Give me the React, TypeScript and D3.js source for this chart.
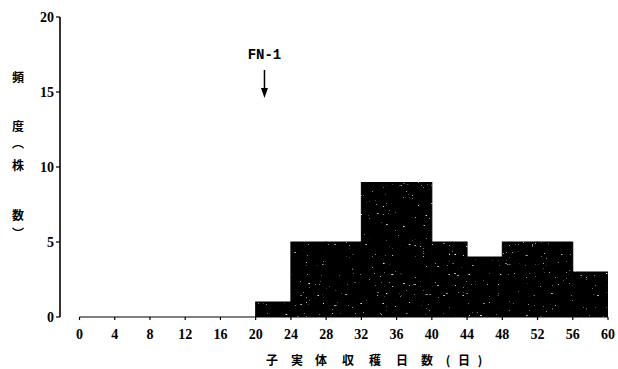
import React from "react";
import * as d3 from "d3";

// Harvest-day histogram: bin start (day), bin end (day), number of plants
const binStarts = [0, 4, 8, 12, 16, 20, 24, 28, 32, 36, 40, 44, 48, 52, 56];
const binEnds = [4, 8, 12, 16, 20, 24, 28, 32, 36, 40, 44, 48, 52, 56, 60];
const counts = [0, 0, 0, 0, 0, 1, 5, 5, 9, 9, 5, 4, 5, 5, 3];

const xTicks = [0, 4, 8, 12, 16, 20, 24, 28, 32, 36, 40, 44, 48, 52, 56, 60];
const yTicks = [0, 5, 10, 15, 20];
const yLabelChars = ["頻", "度", "︵", "株", "数", "︶"];
const yLabelPos = [78, 127, 144, 166, 216, 234];
const xLabelChars = ["子", "実", "体", "収", "穫", "日", "数", "(", "日", ")"];
const xLabelPos = [272, 297, 321, 348, 375, 402, 427, 448, 464, 480];
const markerDay = 21;
const markerText = "FN-1";

const W = 618;
const H = 369;

export default function App() {
  const x = d3.scaleLinear().domain([0, 60]).range([79.5, 608]);
  const y = d3.scaleLinear().domain([0, 20]).range([317, 17]);
  const axisX = 60;
  const font = "'Liberation Serif', 'DejaVu Serif', serif";
  const cjk = "'Noto Sans CJK JP', sans-serif";

  const bars = binStarts
    .map((s, i) => ({ s, e: binEnds[i], c: counts[i] }))
    .filter((b) => b.c > 0);

  return (
    <svg
      width={W}
      height={H}
      style={{ position: "absolute", left: 0, top: 0, background: "#fff" }}
    >
      <defs>
        <filter id="speckle" x="0" y="0" width="100%" height="100%">
          <feTurbulence type="fractalNoise" baseFrequency="0.35 1.1" numOctaves={1} seed={5} result="n" />
          <feColorMatrix
            in="n"
            type="matrix"
            values="0 0 0 0 1  0 0 0 0 1  0 0 0 0 1  10 0 0 0 -7.2"
            result="dots"
          />
          <feComposite in="dots" in2="SourceGraphic" operator="in" result="d2" />
          <feMerge>
            <feMergeNode in="SourceGraphic" />
            <feMergeNode in="d2" />
          </feMerge>
        </filter>
      </defs>

      {/* histogram bars */}
      <g filter="url(#speckle)">
        {bars.map((b, i) => (
          <rect
            key={i}
            x={x(b.s)}
            y={y(b.c)}
            width={x(b.e) - x(b.s)}
            height={y(0) - y(b.c)}
            fill="#050505"
            stroke="#000"
            strokeWidth={1}
          />
        ))}
      </g>

      {/* y axis */}
      <line x1={axisX} x2={axisX} y1={y(20)} y2={y(0)} stroke="#000" strokeWidth={1.6} />
      {yTicks.map((t) => (
        <g key={t}>
          <line x1={axisX - 4} x2={axisX} y1={y(t)} y2={y(t)} stroke="#000" strokeWidth={1.2} />
          <text
            x={axisX - 6}
            y={y(t)}
            dy="0.35em"
            textAnchor="end"
            fontFamily={font}
            fontWeight="bold"
            fontSize={14}
          >
            {t}
          </text>
        </g>
      ))}

      {/* x axis */}
      <line x1={x(0)} x2={x(60)} y1={y(0)} y2={y(0)} stroke="#000" strokeWidth={1.2} />
      {xTicks.map((t) => (
        <g key={t}>
          <line x1={x(t)} x2={x(t)} y1={y(0)} y2={y(0) + 3} stroke="#000" strokeWidth={1.2} />
          <text
            x={x(t)}
            y={339}
            textAnchor="middle"
            fontFamily={font}
            fontWeight="bold"
            fontSize={14}
          >
            {t}
          </text>
        </g>
      ))}

      {/* axis titles */}
      {yLabelChars.map((ch, i) => (
        <text
          key={i}
          x={18}
          y={yLabelPos[i]}
          dy="0.35em"
          textAnchor="middle"
          fontFamily={cjk}
          fontWeight="bold"
          fontSize={12}
        >
          {ch}
        </text>
      ))}
      {xLabelChars.map((ch, i) => (
        <text
          key={i}
          x={xLabelPos[i]}
          y={360}
          dy="0.38em"
          textAnchor="middle"
          fontFamily={cjk}
          fontWeight="bold"
          fontSize={12}
        >
          {ch}
        </text>
      ))}

      {/* FN-1 marker */}
      <text
        x={x(markerDay)}
        y={59}
        textAnchor="middle"
        fontFamily="'Liberation Mono', 'DejaVu Sans Mono', monospace"
        fontWeight="bold"
        fontSize={14}
      >
        {markerText}
      </text>
      <line x1={x(markerDay)} x2={x(markerDay)} y1={70} y2={92} stroke="#000" strokeWidth={1.5} />
      <path
        d={`M${x(markerDay) - 3.5},88 L${x(markerDay) + 3.5},88 L${x(markerDay)},98 Z`}
        fill="#000"
      />
    </svg>
  );
}
